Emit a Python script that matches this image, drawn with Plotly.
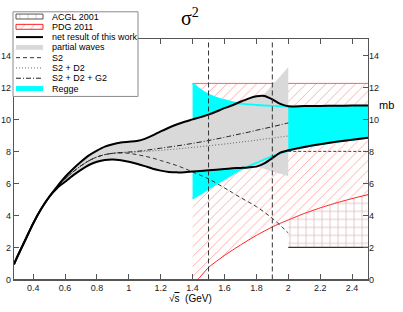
import plotly.graph_objects as go

# ---------------- data ----------------
x_net = [0.28, 0.30, 0.35, 0.40, 0.45, 0.50, 0.55, 0.60, 0.65, 0.70, 0.75, 0.80, 0.85,
         0.90, 0.95, 1.00, 1.05, 1.10, 1.15, 1.20, 1.25, 1.30, 1.35, 1.40, 1.50, 1.60,
         1.65, 1.70, 1.75, 1.80, 1.85, 1.90, 1.95, 2.00, 2.10, 2.20, 2.30, 2.40, 2.50]
net_high = [0.95, 1.40, 2.45, 3.50, 4.40, 5.15, 5.80, 6.40, 6.90, 7.35, 7.75, 8.05, 8.30,
            8.45, 8.55, 8.60, 8.65, 8.78, 9.00, 9.25, 9.48, 9.68, 9.85, 10.00, 10.30, 10.70,
            10.88, 11.10, 11.30, 11.44, 11.46, 11.25, 10.97, 10.82, 10.83, 10.84, 10.85, 10.86, 10.87]
net_low = [0.95, 1.40, 2.45, 3.50, 4.40, 5.15, 5.70, 6.10, 6.50, 6.85, 7.15, 7.35, 7.47,
           7.50, 7.45, 7.36, 7.23, 7.08, 6.92, 6.80, 6.72, 6.69, 6.70, 6.74, 6.82, 6.90,
           6.94, 6.97, 7.00, 7.05, 7.25, 7.58, 7.92, 8.07, 8.28, 8.45, 8.60, 8.73, 8.85]

x_pw = [0.28, 0.30, 0.35, 0.40, 0.45, 0.50, 0.55, 0.60, 0.65, 0.70, 0.75, 0.80, 0.85,
        0.90, 0.95, 1.00, 1.05, 1.10, 1.15, 1.20, 1.25, 1.30, 1.35, 1.40, 1.50, 1.60,
        1.65, 1.70, 1.75, 1.80, 1.85, 1.90, 1.95, 2.00]
pw_high = [0.95, 1.40, 2.45, 3.50, 4.40, 5.15, 5.80, 6.40, 6.90, 7.35, 7.75, 8.05, 8.30,
           8.45, 8.55, 8.60, 8.65, 8.78, 9.00, 9.25, 9.48, 9.68, 9.85, 10.00, 10.30, 10.70,
           10.88, 11.10, 11.30, 11.44, 11.60, 12.15, 12.70, 13.25]
pw_low = [0.95, 1.40, 2.45, 3.50, 4.40, 5.15, 5.70, 6.10, 6.50, 6.85, 7.15, 7.35, 7.47,
          7.50, 7.45, 7.36, 7.23, 7.08, 6.92, 6.80, 6.72, 6.69, 6.70, 6.74, 6.82, 6.90,
          6.94, 6.97, 7.00, 7.05, 6.90, 6.75, 6.60, 6.45]

s2 = [0.95, 1.40, 2.45, 3.50, 4.40, 5.15, 5.75, 6.27, 6.72, 7.10, 7.42, 7.65, 7.80,
      7.88, 7.90, 7.88, 7.80, 7.70, 7.58, 7.43, 7.28, 7.12, 6.93, 6.72, 6.28, 5.72,
      5.42, 5.12, 4.84, 4.55, 4.20, 3.82, 3.38, 2.90]
s2_d2 = [0.95, 1.40, 2.45, 3.50, 4.40, 5.15, 5.75, 6.27, 6.72, 7.10, 7.42, 7.65, 7.80,
         7.88, 7.92, 7.94, 7.96, 7.99, 8.03, 8.07, 8.11, 8.15, 8.20, 8.25, 8.35, 8.46,
         8.52, 8.58, 8.64, 8.70, 8.77, 8.83, 8.90, 8.96]
s2_d2_g2 = [0.95, 1.40, 2.45, 3.50, 4.40, 5.15, 5.75, 6.27, 6.72, 7.10, 7.42, 7.65, 7.80,
            7.88, 7.93, 7.96, 8.00, 8.06, 8.13, 8.20, 8.27, 8.34, 8.42, 8.50, 8.68, 8.88,
            8.99, 9.10, 9.20, 9.32, 9.43, 9.54, 9.66, 9.78]

x_regge = [1.40, 1.45, 1.50, 1.55, 1.60, 1.65, 1.70, 1.80, 1.90, 2.00, 2.10, 2.20, 2.30, 2.40, 2.50]
regge_high = [12.25, 11.85, 11.55, 11.35, 11.20, 11.08, 10.98, 10.90, 10.84, 10.80, 10.82,
              10.83, 10.84, 10.85, 10.86]
regge_low = [5.05, 5.35, 5.68, 5.98, 6.27, 6.57, 6.85, 7.28, 7.70, 8.05, 8.27, 8.44,
             8.59, 8.72, 8.84]

x_pdg = [1.40, 1.43, 1.50, 1.60, 1.70, 1.80, 1.90, 2.00, 2.10, 2.20, 2.30, 2.40, 2.50]
pdg_low = [0.0, 0.0, 0.75, 1.50, 2.15, 2.75, 3.28, 3.72, 4.12, 4.47, 4.78, 5.05, 5.30]
x_pdg_top = [1.40, 2.50]
pdg_high = [12.25, 12.25]

x_acgl = [2.0, 2.5]
acgl_low = [2.0, 2.0]
acgl_high = [8.0, 8.0]

x_marks = [1.5, 1.9]

x_tickvals = [0.4, 0.6, 0.8, 1.0, 1.2, 1.4, 1.6, 1.8, 2.0, 2.2, 2.4]
x_ticktext = ["0.4", "0.6", "0.8", "1", "1.2", "1.4", "1.6", "1.8", "2", "2.2", "2.4"]
y_tickvals = [0, 2, 4, 6, 8, 10, 12, 14]
y_ticktext = ["0", "2", "4", "6", "8", "10", "12", "14"]

legend_labels = ["ACGL 2001", "PDG 2011", "net result of this work", "partial waves",
                 "S2", "S2 + D2", "S2 + D2 + G2", "Regge"]

# ---------------- styles / layout constants ----------------
W, H = 403, 312
PL, PR, PT, PB = 14, 368, 40, 284
X_RANGE = [0.28, 2.5]
Y_RANGE = [0, 15]
FONT = '"Liberation Sans", Arial, Helvetica, sans-serif'
SERIF = '"Liberation Serif", "Times New Roman", serif'
GREY = "#d9d9d9"
CYAN = "#00ffff"
AX = "#555555"
ACGL_PAT = dict(shape="+", fgcolor="#e2c6c6", bgcolor="white", size=8, solidity=0.22, fgopacity=1)
PDG_PAT = dict(shape="/", fgcolor="#ff1a1a", bgcolor="white", size=7, solidity=0.05, fgopacity=1)
DASH_S2 = "4px,3px"
DOT = "1px,2px"
DASHDOT = "5px,2px,1px,2px"
VDASH = "5px,3px"

fig = go.Figure()

def add(**kw):
    kw.setdefault("showlegend", False)
    kw.setdefault("hoverinfo", "skip")
    fig.add_trace(go.Scatter(**kw))

# ACGL 2001 band
add(x=x_acgl, y=acgl_low, mode="lines", line=dict(width=0))
add(x=x_acgl, y=acgl_high, mode="lines", line=dict(width=0), fill="tonexty",
    fillcolor="white", fillpattern=ACGL_PAT)
# PDG 2011 band
add(x=x_pdg, y=pdg_low, mode="lines", line=dict(color="#ff2020", width=1, shape="spline", smoothing=0.6))
add(x=x_pdg_top, y=pdg_high, mode="lines", line=dict(color="#ff6060", width=1), fill="tonexty",
    fillcolor="white", fillpattern=PDG_PAT)
# Regge band
add(x=x_regge, y=regge_low, mode="lines", line=dict(width=0, shape="spline", smoothing=0.6))
add(x=x_regge, y=regge_high, mode="lines", line=dict(width=0, shape="spline", smoothing=0.6),
    fill="tonexty", fillcolor=CYAN)
# partial waves band
add(x=x_pw, y=pw_low, mode="lines", line=dict(width=0, shape="spline", smoothing=0.4))
add(x=x_pw, y=pw_high, mode="lines", line=dict(width=0, shape="spline", smoothing=0.4),
    fill="tonexty", fillcolor=GREY)
# Regge edges over the grey band
add(x=x_regge, y=regge_high, mode="lines", line=dict(color=CYAN, width=1.8, shape="spline", smoothing=0.6))
add(x=x_regge, y=regge_low, mode="lines", line=dict(color=CYAN, width=1.8, shape="spline", smoothing=0.6))
# ACGL edges
add(x=x_acgl, y=acgl_high, mode="lines", line=dict(color="#444444", width=1, dash="3px,2px"))
add(x=x_acgl, y=acgl_low, mode="lines", line=dict(color="#333333", width=1.3))
# partial wave contributions
add(x=x_pw, y=s2, mode="lines", line=dict(color="#333333", width=1, dash=DASH_S2, shape="spline"))
add(x=x_pw, y=s2_d2, mode="lines", line=dict(color="#666666", width=1, dash=DOT, shape="spline"))
add(x=x_pw, y=s2_d2_g2, mode="lines", line=dict(color="#222222", width=1, dash=DASHDOT, shape="spline"))
# net result
add(x=x_net, y=net_high, mode="lines", line=dict(color="black", width=2, shape="spline", smoothing=0.7))
add(x=x_net, y=net_low, mode="lines", line=dict(color="black", width=2, shape="spline", smoothing=0.7))
# vertical marker lines (on the right-hand overlay axis, same scale)
vx, vy = [], []
for v in x_marks:
    vx += [v, v, None]
    vy += [Y_RANGE[0], Y_RANGE[1], None]
add(x=vx, y=vy, yaxis="y3", mode="lines", line=dict(color="#333333", width=1, dash=VDASH))

# ---------------- hand-built compact legend (pixel axes x2/y2) ----------------
LX0, LX1, LY0, LY1 = 13, 138, 12, 98
SW0, SW1, TX = 16, 43, 50
ROW0, ROWH, SWH = 16.8, 10.45, 2.5
add(x=[LX0, LX1, LX1, LX0, LX0], y=[LY0, LY0, LY1, LY1, LY0], xaxis="x2", yaxis="y2",
    mode="lines", fill="toself", fillcolor="white", line=dict(color="#8a8a8a", width=1))
legend_styles = [
    ("patch", dict(fillcolor="white", fillpattern=ACGL_PAT, line=dict(color="#555555", width=1))),
    ("patch", dict(fillcolor="white", fillpattern=PDG_PAT, line=dict(color="#ff2020", width=1))),
    ("line", dict(line=dict(color="black", width=2))),
    ("patch", dict(fillcolor=GREY, line=dict(width=0))),
    ("line", dict(line=dict(color="#333333", width=1, dash=DASH_S2))),
    ("line", dict(line=dict(color="#666666", width=1, dash=DOT))),
    ("line", dict(line=dict(color="#222222", width=1, dash=DASHDOT))),
    ("patch", dict(fillcolor=CYAN, line=dict(width=0))),
]
annotations = []
for i, (label, (kind, st)) in enumerate(zip(legend_labels, legend_styles)):
    yc = ROW0 + i * ROWH
    if kind == "patch":
        add(x=[SW0, SW1, SW1, SW0, SW0], y=[yc - SWH, yc - SWH, yc + SWH, yc + SWH, yc - SWH],
            xaxis="x2", yaxis="y2", mode="lines", fill="toself", **st)
    else:
        add(x=[SW0, SW1], y=[yc, yc], xaxis="x2", yaxis="y2", mode="lines", **st)
    annotations.append(dict(x=TX, y=yc, xref="x2", yref="y2", text=label, showarrow=False,
                            xanchor="left", yanchor="middle",
                            font=dict(family=FONT, size=9, color="black")))

# title, axis titles
annotations.append(dict(x=190, y=17, xref="x2", yref="y2", text="σ<sup>2</sup>", showarrow=False,
                        xanchor="center", yanchor="middle",
                        font=dict(family=SERIF, size=20, color="black")))
annotations.append(dict(x=190, y=303, xref="x2", yref="y2",
                        text="√<span style='text-decoration:overline'>s</span>\u00a0\u00a0(GeV)",
                        showarrow=False, xanchor="center", yanchor="middle",
                        font=dict(family=FONT, size=10, color="black")))
annotations.append(dict(x=386, y=107, xref="x2", yref="y2", text="mb", showarrow=False,
                        xanchor="center", yanchor="middle",
                        font=dict(family=FONT, size=11, color="black")))

axis_common = dict(showgrid=False, zeroline=False, ticks="inside", ticklen=5, tickwidth=1,
                   tickcolor=AX, showline=True, linecolor=AX, linewidth=1.2, mirror="ticks",
                   tickfont=dict(family=FONT, size=9, color="#222222"))

fig.update_layout(
    width=W, height=H, margin=dict(l=0, r=0, t=0, b=0),
    paper_bgcolor="white", plot_bgcolor="rgba(0,0,0,0)", showlegend=False,
    font=dict(family=FONT, size=9, color="#222222"),
    xaxis=dict(domain=[PL / W, PR / W], range=X_RANGE, tickvals=x_tickvals, ticktext=x_ticktext,
               anchor="y", **axis_common),
    yaxis=dict(domain=[1 - PB / H, 1 - PT / H], range=Y_RANGE, tickvals=y_tickvals,
               ticktext=y_ticktext, anchor="x", **axis_common),
    yaxis3=dict(overlaying="y", side="right", range=Y_RANGE, tickvals=y_tickvals,
                ticktext=y_ticktext, showgrid=False, zeroline=False, showline=False, ticks="",
                anchor="x", tickfont=dict(family=FONT, size=9, color="#222222")),
    xaxis2=dict(domain=[0, 1], range=[0, W], visible=False, anchor="y2", fixedrange=True),
    yaxis2=dict(domain=[0, 1], range=[H, 0], visible=False, anchor="x2", fixedrange=True),
    annotations=annotations,
)

fig.write_html("out.html", config={"displayModeBar": False, "staticPlot": True},
               post_script="document.body.style.margin='0';document.body.style.padding='0';"
                           "document.body.style.overflow='hidden';")
